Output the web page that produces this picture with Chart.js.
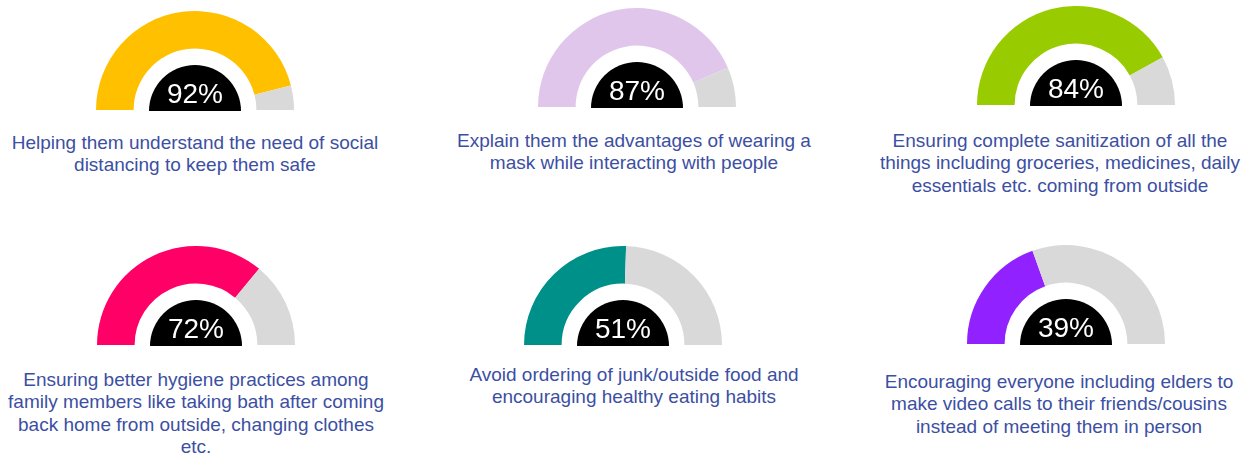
<!DOCTYPE html>
<html>
<head>
<meta charset="utf-8">
<script src="https://cdn.jsdelivr.net/npm/chart.js@4"></script>
<style>
  html, body { margin: 0; padding: 0; background: #fff; }
  #board { position: relative; width: 1257px; height: 458px; overflow: hidden; }
  .gauge { position: absolute; }
  .caption {
    position: absolute;
    width: 480px;
    text-align: center;
    font-family: "Liberation Sans", Arial, sans-serif;
    font-size: 19px;
    line-height: 22.4px;
    color: #3C4FA3;
  }
</style>
</head>
<body>
<div id="board"></div>
<script>
// survey answers, share of respondents (%)
const measures = [
  ['Helping them understand the need of social', 'distancing to keep them safe'],
  ['Explain them the advantages of wearing a', 'mask while interacting with people'],
  ['Ensuring complete sanitization of all the', 'things including groceries, medicines, daily', 'essentials etc. coming from outside'],
  ['Ensuring better hygiene practices among', 'family members like taking bath after coming', 'back home from outside, changing clothes', 'etc.'],
  ['Avoid ordering of junk/outside food and', 'encouraging healthy eating habits'],
  ['Encouraging everyone including elders to', 'make video calls to their friends/cousins', 'instead of meeting them in person']
];
const shares = [92, 87, 84, 72, 51, 39];
const fillColors = ['#FFC000', '#E1C6EC', '#99CC00', '#FF0066', '#00908A', '#9122FF'];
const restColor = '#D9D9D9';

// where each gauge sits: centre x, baseline y, and its caption centre / top
const spots = [
  { cx: 195,  base: 110, tx: 195,  ty: 132 },
  { cx: 637,  base: 107, tx: 634,  ty: 130 },
  { cx: 1076, base: 105, tx: 1060, ty: 130 },
  { cx: 196,  base: 345, tx: 196,  ty: 369 },
  { cx: 623,  base: 345, tx: 634,  ty: 364 },
  { cx: 1066, base: 344, tx: 1059, ty: 371 }
];

const R = 99, PAD_X = 10, PAD_B = 6;

// black half disc with the value inside
const centerBadge = {
  id: 'centerBadge',
  afterDraw(chart) {
    const arc = chart.getDatasetMeta(0).data[0];
    if (!arc) return;
    const ctx = chart.ctx;
    const x = arc.x, y = arc.y;
    ctx.save();
    ctx.fillStyle = '#000';
    ctx.beginPath();
    ctx.arc(x, y + 1, 46, Math.PI, 0);
    ctx.closePath();
    ctx.fill();
    ctx.fillStyle = '#fff';
    ctx.font = '28px "Liberation Sans", Arial, sans-serif';
    ctx.textAlign = 'center';
    ctx.textBaseline = 'alphabetic';
    ctx.fillText(chart.data.datasets[0].data[0] + '%', x, y - 7);
    ctx.restore();
  }
};

const board = document.getElementById('board');

shares.forEach((v, i) => {
  const s = spots[i];
  const canvas = document.createElement('canvas');
  canvas.className = 'gauge';
  canvas.width = 2 * R + 2 * PAD_X;
  canvas.height = R + PAD_B;
  canvas.style.left = (s.cx - R - PAD_X) + 'px';
  canvas.style.top = (s.base - R) + 'px';
  board.appendChild(canvas);

  new Chart(canvas.getContext('2d'), {
    type: 'doughnut',
    data: {
      labels: ['Yes', 'Other'],
      datasets: [{
        data: [v, 100 - v],
        backgroundColor: [fillColors[i], restColor],
        borderWidth: 0
      }]
    },
    options: {
      responsive: false,
      animation: false,
      events: [],
      rotation: -90,
      circumference: 180,
      cutout: '62%',
      layout: { padding: { left: PAD_X, right: PAD_X, top: 0, bottom: PAD_B } },
      plugins: { legend: { display: false }, tooltip: { enabled: false } }
    },
    plugins: [centerBadge]
  });

  const cap = document.createElement('div');
  cap.className = 'caption';
  cap.style.left = (s.tx - 240) + 'px';
  cap.style.top = s.ty + 'px';
  cap.innerHTML = measures[i].join('<br>');
  board.appendChild(cap);
});
</script>
</body>
</html>
